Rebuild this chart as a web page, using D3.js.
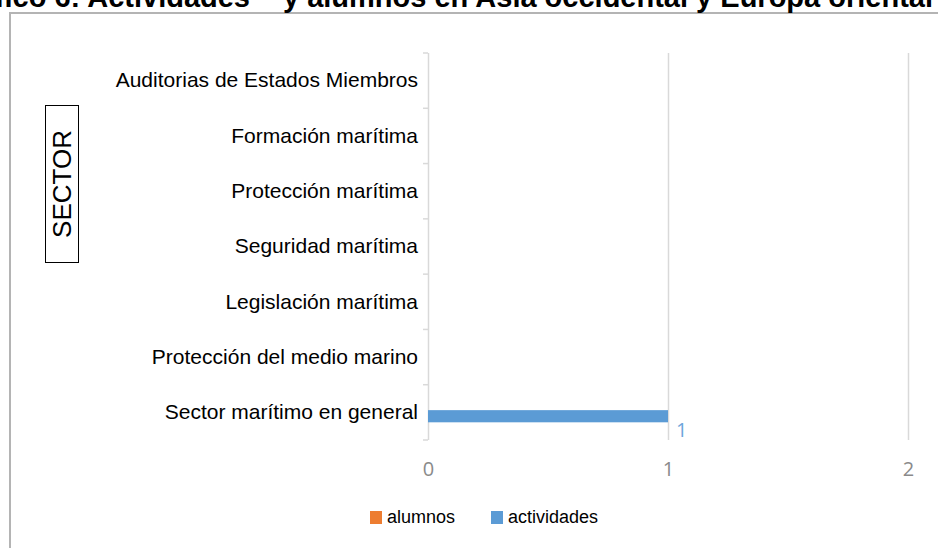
<!DOCTYPE html>
<html>
<head>
<meta charset="utf-8">
<script src="https://cdn.jsdelivr.net/npm/d3@7"></script>
<style>
  body { margin: 0; background: #fff; }
  svg { display: block; }
</style>
</head>
<body>
<svg id="chart" width="938" height="548"></svg>
<script>
const width = 938;
const height = 548;

// data
const categories = [
  'Auditorias de Estados Miembros',
  'Formación marítima',
  'Protección marítima',
  'Seguridad marítima',
  'Legislación marítima',
  'Protección del medio marino',
  'Sector marítimo en general'
];
const seriesNames = ['alumnos', 'actividades'];
const alumnos = [0, 0, 0, 0, 0, 0, 0];
const actividades = [0, 0, 0, 0, 0, 0, 1];
const xTicks = [0, 1, 2];
const colours = ['#ed7d31', '#5b9bd5'];

const svg = d3.select('#chart');

// outer chart border
svg.append('rect')
  .attr('x', 10).attr('y', 13)
  .attr('width', 1000).attr('height', 600)
  .attr('fill', 'none')
  .attr('stroke', '#b4b4b4')
  .attr('stroke-width', 2);

// title, cropped at top like the original
svg.append('text')
  .attr('x', 250).attr('y', 7)
  .attr('text-anchor', 'end')
  .attr('font-family', 'Arial, Liberation Sans, sans-serif')
  .attr('font-weight', 'bold')
  .attr('font-size', 29)
  .attr('fill', '#000')
  .text('Gráfico 6: Actividades');
svg.append('text')
  .attr('x', 283).attr('y', 7)
  .attr('font-family', 'Arial, Liberation Sans, sans-serif')
  .attr('font-weight', 'bold')
  .attr('font-size', 29)
  .attr('fill', '#000')
  .text('y alumnos en Asia occidental y Europa oriental');

const scaleX = d3.scaleLinear()
  .domain([0, 2])
  .range([428, 908]);

const scaleY = d3.scaleBand()
  .domain(categories)
  .range([53, 440]);

const scaleSub = d3.scaleBand()
  .domain(seriesNames)
  .range([scaleY.bandwidth() * 0.24, scaleY.bandwidth() * 0.68]);

const plotBottom = scaleY.range()[1];
const plotTop = scaleY.range()[0];

// vertical gridlines
const grid = svg.append('g')
  .attr('transform', `translate(0,${plotBottom})`)
  .call(d3.axisBottom(scaleX).tickValues(xTicks).tickSize(-(plotBottom - plotTop)).tickFormat(''));
grid.select('.domain').remove();
grid.selectAll('line').attr('stroke', '#d9d9d9').attr('stroke-width', 1.5);

// x tick labels
const xAxis = svg.append('g')
  .attr('transform', `translate(0,${plotBottom})`)
  .call(d3.axisBottom(scaleX).tickValues(xTicks).tickSize(0).tickPadding(22).tickFormat(d3.format('d')));
xAxis.select('.domain').remove();
xAxis.selectAll('text')
  .attr('font-family', 'Open Sans, sans-serif')
  .attr('font-size', 20)
  .attr('fill', '#8a8a8a');

// category tick marks on band boundaries
const bounds = categories.map(c => scaleY(c)).concat([plotBottom]);
svg.append('g')
  .selectAll('line')
  .data(bounds)
  .enter()
  .append('line')
  .attr('x1', scaleX(0) - 5)
  .attr('x2', scaleX(0))
  .attr('y1', d => d)
  .attr('y2', d => d)
  .attr('stroke', '#d9d9d9')
  .attr('stroke-width', 1.5);

// category labels
const yAxis = svg.append('g')
  .attr('transform', `translate(${scaleX(0)},0)`)
  .call(d3.axisLeft(scaleY).tickSize(0).tickPadding(10));
yAxis.select('.domain').remove();
yAxis.selectAll('text')
  .attr('font-family', 'Arial, Liberation Sans, sans-serif')
  .attr('font-size', 21)
  .attr('fill', '#000');

// bars
const rows = categories.map((c, i) => ({ cat: c, values: [alumnos[i], actividades[i]] }));
const groups = svg.append('g')
  .selectAll('g')
  .data(rows)
  .enter()
  .append('g')
  .attr('transform', d => `translate(0,${scaleY(d.cat)})`);

groups.selectAll('rect')
  .data(d => d.values.map((v, j) => ({ name: seriesNames[j], value: v, col: colours[j] })))
  .enter()
  .append('rect')
  .attr('x', scaleX(0))
  .attr('y', d => scaleSub(d.name))
  .attr('width', d => scaleX(d.value) - scaleX(0))
  .attr('height', scaleSub.bandwidth())
  .attr('fill', d => d.col);

// data labels for non-zero values
groups.selectAll('text.lbl')
  .data(d => d.values.map((v, j) => ({ name: seriesNames[j], value: v, col: colours[j] })).filter(d => d.value > 0))
  .enter()
  .append('text')
  .attr('class', 'lbl')
  .attr('x', d => scaleX(d.value) + 8)
  .attr('y', d => scaleSub(d.name) + scaleSub.bandwidth() + 15)
  .attr('font-family', 'Open Sans, sans-serif')
  .attr('font-size', 20)
  .attr('fill', '#6ea6dc')
  .text(d => d.value);

// y axis title box
const titleBox = svg.append('g').attr('transform', 'translate(62,184)');
titleBox.append('rect')
  .attr('x', -16.5).attr('y', -78.5)
  .attr('width', 33).attr('height', 157)
  .attr('fill', 'none')
  .attr('stroke', '#000')
  .attr('stroke-width', 1);
titleBox.append('text')
  .attr('transform', 'rotate(-90)')
  .attr('text-anchor', 'middle')
  .attr('dy', '0.36em')
  .attr('font-family', 'Arial, Liberation Sans, sans-serif')
  .attr('font-size', 26)
  .attr('fill', '#000')
  .text('SECTOR');

// legend
const legendX = [370, 491];
const legend = svg.append('g')
  .selectAll('g')
  .data(seriesNames)
  .enter()
  .append('g')
  .attr('transform', (d, i) => `translate(${legendX[i]},511)`);
legend.append('rect')
  .attr('width', 12).attr('height', 13)
  .attr('fill', (d, i) => colours[i]);
legend.append('text')
  .attr('x', 17).attr('y', 12)
  .attr('font-family', 'Arial, Liberation Sans, sans-serif')
  .attr('font-size', 18)
  .attr('fill', '#000')
  .text(d => d);
</script>
</body>
</html>
